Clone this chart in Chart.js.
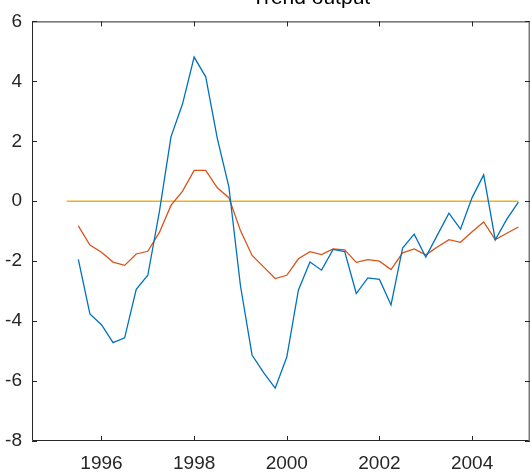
<!DOCTYPE html>
<html>
<head>
<meta charset="utf-8">
<script src="https://cdn.jsdelivr.net/npm/chart.js@4"></script>
<style>
html,body{margin:0;padding:0;background:#fff;}
#wrap{width:532px;height:476px;position:relative;}
</style>
</head>
<body>
<div id="wrap"><canvas id="c"></canvas></div>
<script>
const titleText = "Trend output";
const quarters = [1995.5, 1995.75, 1996, 1996.25, 1996.5, 1996.75, 1997, 1997.25, 1997.5, 1997.75, 1998, 1998.25, 1998.5, 1998.75, 1999, 1999.25, 1999.5, 1999.75, 2000, 2000.25, 2000.5, 2000.75, 2001, 2001.25, 2001.5, 2001.75, 2002, 2002.25, 2002.5, 2002.75, 2003, 2003.25, 2003.5, 2003.75, 2004, 2004.25, 2004.5, 2004.75, 2005];
const blueSeries = [-1.94,-3.76,-4.12,-4.72,-4.56,-2.94,-2.47,-0.35,2.15,3.25,4.81,4.15,2.10,0.48,-2.82,-5.13,-5.72,-6.24,-5.20,-2.97,-2.03,-2.30,-1.61,-1.68,-3.08,-2.56,-2.61,-3.46,-1.56,-1.10,-1.86,-1.13,-0.40,-0.93,0.12,0.88,-1.29,-0.60,-0.03];
const redSeries = [-0.82,-1.46,-1.70,-2.03,-2.14,-1.76,-1.67,-1.04,-0.14,0.34,1.03,1.03,0.45,0.12,-0.98,-1.81,-2.19,-2.58,-2.47,-1.92,-1.68,-1.78,-1.59,-1.62,-2.04,-1.95,-2.00,-2.28,-1.72,-1.59,-1.79,-1.53,-1.28,-1.37,-1.02,-0.69,-1.28,-1.07,-0.86];
const zeroX = [1995.25, 2005];
const zeroY = [0, 0];
const xTicks = [1996, 1998, 2000, 2002, 2004];
const yTicks = [-8, -6, -4, -2, 0, 2, 4, 6];
const xMin = 1994.5, xMax = 2005.25, yMin = -8, yMax = 6;

const toXY = (xs, ys) => xs.map((x, i) => ({x: x, y: ys[i]}));
const axisColor = '#262626';
const fontSpec = {family: '"Liberation Sans", Arial, Helvetica, sans-serif', size: 19};

const boxPlugin = {
  id: 'matlabBox',
  afterDatasetsDraw(chart) {
    const ctx = chart.ctx;
    const a = chart.chartArea;
    const xs = chart.scales.x, ys = chart.scales.y;
    const tl = 5;
    ctx.save();
    ctx.strokeStyle = axisColor;
    ctx.lineWidth = 1;
    ctx.beginPath();
    ctx.moveTo(a.left + 0.5, a.top + 0.5);
    ctx.lineTo(a.left + 0.5, a.bottom - 0.5);
    ctx.lineTo(a.right - 0.5, a.bottom - 0.5);
    ctx.moveTo(a.left + 0.5, a.top + 0.5);
    ctx.lineTo(a.right - 0.5, a.top + 0.5);
    ctx.stroke();
    ctx.strokeStyle = '#7a7a7a';
    ctx.lineWidth = 1.5;
    ctx.beginPath();
    ctx.moveTo(a.right - 0.75, a.top);
    ctx.lineTo(a.right - 0.75, a.bottom);
    ctx.stroke();
    ctx.strokeStyle = axisColor;
    ctx.lineWidth = 1;
    ctx.beginPath();
    xTicks.forEach(v => {
      const px = Math.round(xs.getPixelForValue(v)) + 0.5;
      ctx.moveTo(px, a.bottom); ctx.lineTo(px, a.bottom - tl);
      ctx.moveTo(px, a.top); ctx.lineTo(px, a.top + tl);
    });
    yTicks.forEach(v => {
      const py = Math.round(ys.getPixelForValue(v)) + 0.5;
      ctx.moveTo(a.left, py); ctx.lineTo(a.left + tl, py);
      ctx.moveTo(a.right, py); ctx.lineTo(a.right - tl, py);
    });
    ctx.stroke();
    ctx.restore();
  },
  afterDraw(chart) {
    const ctx = chart.ctx;
    ctx.save();
    ctx.fillStyle = '#000';
    ctx.font = '21px "Liberation Sans", Arial, sans-serif';
    ctx.textAlign = 'center';
    ctx.textBaseline = 'alphabetic';
    ctx.fillText(titleText, 311, 4);
    ctx.restore();
  }
};

new Chart(document.getElementById('c'), {
  type: 'line',
  data: {
    datasets: [
      {data: toXY(quarters, blueSeries), borderColor: '#0072BD', borderWidth: 1.3, pointRadius: 0, tension: 0, fill: false, order: 1},
      {data: toXY(quarters, redSeries), borderColor: '#D95319', borderWidth: 1.3, pointRadius: 0, tension: 0, fill: false, order: 2},
      {data: toXY(zeroX, zeroY), borderColor: '#EDB120', borderWidth: 1.6, pointRadius: 0, tension: 0, fill: false, order: 3}
    ]
  },
  options: {
    responsive: true,
    maintainAspectRatio: false,
    animation: false,
    layout: {padding: {top: 17, right: 2, left: 0, bottom: 0}},
    plugins: {legend: {display: false}, tooltip: {enabled: false}, title: {display: false}},
    scales: {
      x: {
        type: 'linear', min: xMin, max: xMax,
        grid: {display: false, drawTicks: false},
        border: {display: false},
        afterBuildTicks: s => { s.ticks = xTicks.map(v => ({value: v})); },
        afterFit: s => { s.height = 35; },
        ticks: {color: axisColor, font: fontSpec, padding: 11, maxRotation: 0, autoSkip: false, callback: v => String(v)}
      },
      y: {
        type: 'linear', min: yMin, max: yMax,
        grid: {display: false, drawTicks: false},
        border: {display: false},
        afterBuildTicks: s => { s.ticks = yTicks.map(v => ({value: v})); },
        afterFit: s => { s.width = 32; },
        ticks: {color: axisColor, font: fontSpec, padding: 10, autoSkip: false, callback: v => String(v)}
      }
    }
  },
  plugins: [boxPlugin]
});
</script>
</body>
</html>
